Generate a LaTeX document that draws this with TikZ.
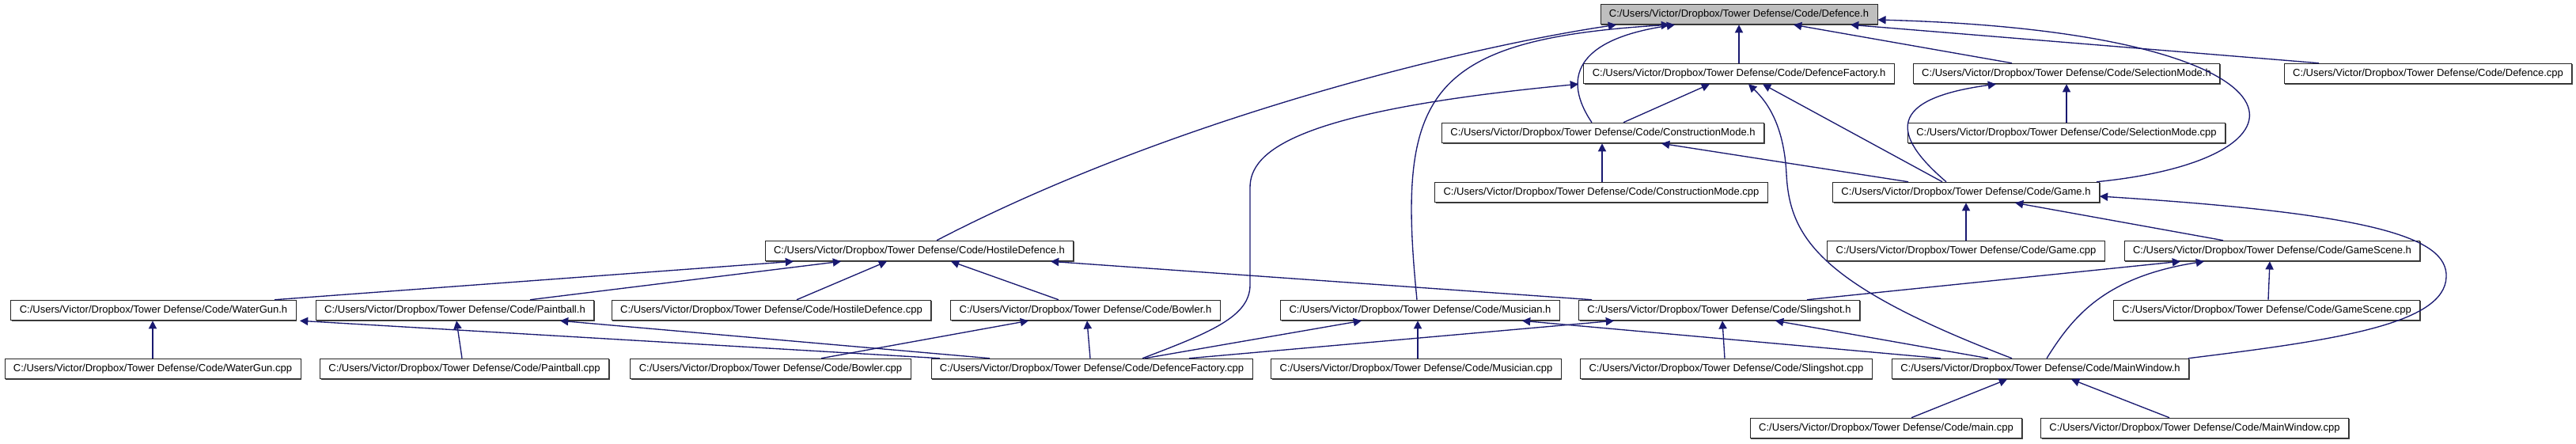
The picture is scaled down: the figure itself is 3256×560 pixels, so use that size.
\documentclass[tikz,border=0pt]{standalone}
\usepackage{fontspec}
\setmainfont{Liberation Sans}
\usetikzlibrary{arrows.meta,shadows}
\definecolor{edgeblue}{HTML}{191970}
\def\dir{C:/Users/Victor/Dropbox/Tower Defense/Code/}

\begin{document}
\begin{tikzpicture}[x=0.01cm, y=-0.01cm,
  file/.style={draw=black!85, fill=white, line width=0.25pt, inner xsep=3.1pt, inner ysep=0pt,
    minimum height=7.3pt, font=\fontsize{3.7pt}{4.4pt}\selectfont,
    drop shadow={shadow xshift=0.3pt, shadow yshift=-0.3pt, fill=black!70, opacity=1}},
  focus/.style={file, fill=black!25},
  inc/.style={draw=edgeblue, line width=0.38pt, -{Triangle[length=2.9pt, width=2.9pt]}}]
\useasboundingbox (0,0) rectangle (3256,560);

% Files
\node[focus] (defh) at (2198,18) {\dir Defence.h};
\node[file] (dfh) at (2198,93) {\dir DefenceFactory.h};
\node[file] (selh) at (2612,93) {\dir SelectionMode.h};
\node[file] (defcpp) at (3069,93) {\dir Defence.cpp};
\node[file] (conh) at (2026,168) {\dir ConstructionMode.h};
\node[file] (selcpp) at (2612,168) {\dir SelectionMode.cpp};
\node[file] (concpp) at (2024,243) {\dir ConstructionMode.cpp};
\node[file] (gameh) at (2485,243) {\dir Game.h};
\node[file] (hosh) at (1162,317) {\dir HostileDefence.h};
\node[file] (gamecpp) at (2485,317) {\dir Game.cpp};
\node[file] (gsh) at (2872,317) {\dir GameScene.h};
\node[file] (wgh) at (194,392) {\dir WaterGun.h};
\node[file] (pbh) at (575,392) {\dir Paintball.h};
\node[file] (hoscpp) at (975,392) {\dir HostileDefence.cpp};
\node[file] (bowh) at (1372,392) {\dir Bowler.h};
\node[file] (mush) at (1795,392) {\dir Musician.h};
\node[file] (slh) at (2173,392) {\dir Slingshot.h};
\node[file] (gscpp) at (2865,392) {\dir GameScene.cpp};
\node[file] (wgcpp) at (193,466) {\dir WaterGun.cpp};
\node[file] (pbcpp) at (587,466) {\dir Paintball.cpp};
\node[file] (bowcpp) at (974,466) {\dir Bowler.cpp};
\node[file] (dfcpp) at (1380,466) {\dir DefenceFactory.cpp};
\node[file] (muscpp) at (1790,466) {\dir Musician.cpp};
\node[file] (slcpp) at (2182,466) {\dir Slingshot.cpp};
\node[file] (mwh) at (2579,466) {\dir MainWindow.h};
\node[file] (maincpp) at (2384,541) {\dir main.cpp};
\node[file] (mwcpp) at (2774,541) {\dir MainWindow.cpp};

% Includes of Defence.h
\draw[inc] (1184,0 |- hosh.north) .. controls (1480,150) and (1850,60) .. (2043,0 |- defh.south);
\draw[inc] (1791,0 |- mush.north) .. controls (1765,120) and (1800,50) .. (2110,0 |- defh.south);
\draw[inc] (2012,0 |- conh.north) .. controls (1975,100) and (1990,50) .. (2117,0 |- defh.south);
\draw[inc] (dfh) -- (defh);
\draw[inc] (2543,0 |- selh.north) -- (2267,0 |- defh.south);
\draw[inc] (2931,0 |- defcpp.north) -- (2339,0 |- defh.south);
\draw[inc] (2650,0 |- gameh.north) .. controls (2950,200) and (2930,40) .. (defh.east |- 0,25);

% DefenceFactory.h, SelectionMode.h, ConstructionMode.h
\draw[inc] (2052,0 |- conh.north) -- (2161,0 |- dfh.south);
\draw[inc] (2455,0 |- gameh.north) -- (2228,0 |- dfh.south);
\draw[inc] (2543,0 |- mwh.north) .. controls (2300,360) and (2262,300) .. (2258,220)
  .. controls (2255,160) and (2235,130) .. (2210,0 |- dfh.south);
\draw[inc] (1444,0 |- dfcpp.north) .. controls (1530,420) and (1580,400) .. (1580,360) -- (1580,237)
  .. controls (1580,190) and (1640,140) .. (1995,0 |- dfh.south);
\draw[inc] (selcpp) -- (selh);
\draw[inc] (2460,0 |- gameh.north) .. controls (2390,170) and (2385,125) .. (2523,0 |- selh.south);
\draw[inc] (2025,0 |- concpp.north) -- (2025,0 |- conh.south);
\draw[inc] (2412,0 |- gameh.north) -- (2100,0 |- conh.south);

% Game.h, GameScene.h
\draw[inc] (gamecpp) -- (gameh);
\draw[inc] (2810,0 |- gsh.north) -- (2547,0 |- gameh.south);
\draw[inc] (2766,0 |- mwh.north) .. controls (2950,430) and (3090,410) .. (3092,350)
  .. controls (3094,300) and (3000,270) .. (gameh.east |- 0,248);
\draw[inc] (2867,0 |- gscpp.north) -- (2869,0 |- gsh.south);
\draw[inc] (2284,0 |- slh.north) -- (2756,0 |- gsh.south);
\draw[inc] (2587,0 |- mwh.north) .. controls (2620,400) and (2660,350) .. (2786,0 |- gsh.south);

% HostileDefence.h
\draw[inc] (347,0 |- wgh.north) -- (1003,0 |- hosh.south);
\draw[inc] (670,0 |- pbh.north) -- (1063,0 |- hosh.south);
\draw[inc] (1007,0 |- hoscpp.north) -- (1121,0 |- hosh.south);
\draw[inc] (1338,0 |- bowh.north) -- (1202,0 |- hosh.south);
\draw[inc] (2012,0 |- slh.north) -- (1328,0 |- hosh.south);

% Defences
\draw[inc] (193,0 |- wgcpp.north) -- (193,0 |- wgh.south);
\draw[inc] (1188,0 |- dfcpp.north) -- (379,0 |- wgh.south);
\draw[inc] (584,0 |- pbcpp.north) -- (577,0 |- pbh.south);
\draw[inc] (1251,0 |- dfcpp.north) -- (708,0 |- pbh.south);
\draw[inc] (1038,0 |- bowcpp.north) -- (1300,0 |- bowh.south);
\draw[inc] (1378,0 |- dfcpp.north) -- (1374,0 |- bowh.south);
\draw[inc] (1447,0 |- dfcpp.north) -- (1721,0 |- mush.south);
\draw[inc] (1792,0 |- muscpp.north) -- (1792,0 |- mush.south);
\draw[inc] (2453,0 |- mwh.north) -- (1924,0 |- mush.south);
\draw[inc] (1503,0 |- dfcpp.north) -- (2040,0 |- slh.south);
\draw[inc] (2180,0 |- slcpp.north) -- (2177,0 |- slh.south);
\draw[inc] (2513,0 |- mwh.north) -- (2244,0 |- slh.south);

% MainWindow.h
\draw[inc] (2416,0 |- maincpp.north) -- (2537,0 |- mwh.south);
\draw[inc] (2742,0 |- mwcpp.north) -- (2618,0 |- mwh.south);

\end{tikzpicture}
\end{document}
